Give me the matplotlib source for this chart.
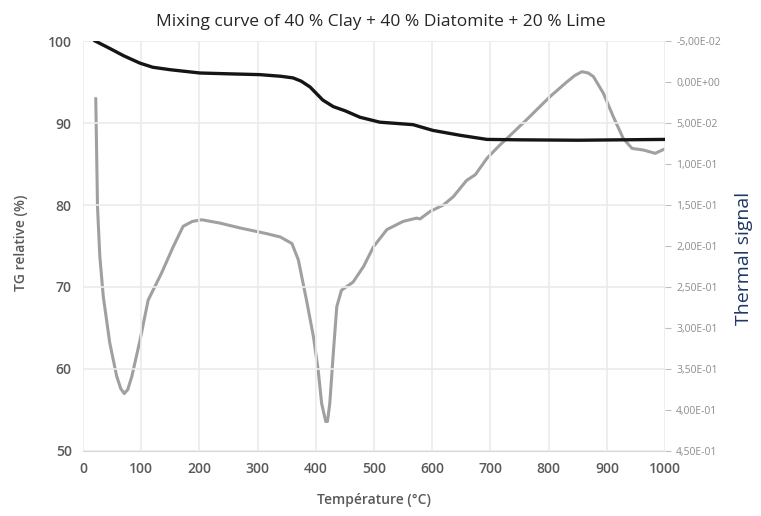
import matplotlib
matplotlib.use("Agg")
import matplotlib.pyplot as plt
from matplotlib.ticker import FuncFormatter, MultipleLocator

# TG relative (%) - black curve (left axis)
tg_temp = [21, 46, 70, 98, 120, 150, 201, 250, 304, 340, 361, 375, 390, 412, 430,
           450, 476, 510, 567, 601, 648, 694, 750, 850, 1000]
tg_val = [100, 99.1, 98.2, 97.3, 96.8, 96.5, 96.1, 96.0, 95.9, 95.7, 95.5, 95.1, 94.4,
          92.8, 92.0, 91.5, 90.7, 90.1, 89.8, 89.1, 88.5, 88.0, 87.95, 87.9, 88.0]

# Thermal signal - grey curve (right axis, inverted)
th_temp = [22, 25, 29, 35, 46, 58, 65, 71, 77, 84, 98, 112, 135, 155, 172, 188, 204,
           235, 270, 316, 339, 359, 370, 384, 396, 404, 410, 417, 420, 424, 430, 436,
           444, 464, 482, 499, 522, 550, 573, 579, 596, 619, 636, 659, 674, 694, 716,
           734, 762, 802, 831, 845, 857, 868, 877, 894, 911, 928, 943, 963, 983, 998]
th_val = [0.020, 0.152, 0.213, 0.262, 0.318, 0.359, 0.374, 0.380, 0.375, 0.359, 0.315,
          0.266, 0.233, 0.201, 0.176, 0.170, 0.168, 0.172, 0.178, 0.185, 0.189, 0.197,
          0.217, 0.266, 0.311, 0.351, 0.392, 0.414, 0.414, 0.392, 0.331, 0.274, 0.254,
          0.244, 0.225, 0.201, 0.180, 0.170, 0.166, 0.167, 0.158, 0.150, 0.140, 0.120,
          0.113, 0.093, 0.077, 0.065, 0.046, 0.018, 0.000, -0.008, -0.0126, -0.011,
          -0.0065, 0.0138, 0.0423, 0.0687, 0.0809, 0.083, 0.087, 0.082]

title = "Mixing curve of 40 % Clay + 40 % Diatomite + 20 % Lime"
xlabel = "Température (°C)"
ylabel_left = "TG relative (%)"
ylabel_right = "Thermal signal"

plt.rcParams['font.family'] = ['Open Sans', 'DejaVu Sans']

fig = plt.figure(figsize=(7.61, 5.16), dpi=100)
ax = fig.add_axes([0.109, 0.126, 0.765, 0.7945])
ax2 = ax.twinx()

tick_col = '#595959'
grid_col = '#ebebeb'

ax.set_xlim(0, 1000)
ax.set_ylim(50, 100)
ax.xaxis.set_major_locator(MultipleLocator(100))
ax.yaxis.set_major_locator(MultipleLocator(10))
ax.grid(True, color=grid_col, linewidth=1.2)
ax.set_axisbelow(True)
for s in ['top', 'left', 'right']:
    ax.spines[s].set_visible(False)
ax.spines['bottom'].set_color('#d9d9d9')
ax.tick_params(axis='both', length=0, colors=tick_col, labelsize=10, pad=8)
for lab in ax.get_xticklabels() + ax.get_yticklabels():
    lab.set_fontweight('semibold')

ax2.set_ylim(0.45, -0.05)
ax2.yaxis.set_major_locator(MultipleLocator(0.05))
ax2.yaxis.set_major_formatter(FuncFormatter(lambda v, p: f"{v:.2E}".replace('.', ',')))
for s in ['top', 'left', 'right', 'bottom']:
    ax2.spines[s].set_visible(False)
ax2.tick_params(axis='y', length=4, color='#bfbfbf', colors='#8c8c8c', labelsize=7.5, pad=4)

ax2.plot(th_temp, th_val, color='#a0a0a0', linewidth=2.2,
         solid_joinstyle='round', solid_capstyle='round')
ax.plot(tg_temp, tg_val, color='#151515', linewidth=2.4, zorder=5,
        solid_joinstyle='round')
ax.set_zorder(ax2.get_zorder() + 1)
ax.patch.set_visible(False)

fig.text(0.5, 0.957, title, ha='center', va='center', fontsize=12.5, color='#262626')
ax.set_xlabel(xlabel, fontsize=10, color=tick_col, fontweight='semibold', labelpad=12)
fig.text(0.027, 0.53, ylabel_left, rotation=90, ha='center', va='center',
         fontsize=10, color=tick_col, fontweight='semibold')
fig.text(0.978, 0.50, ylabel_right, rotation=90, ha='center', va='center',
         fontsize=14, color='#1f3864')

fig.savefig('out.png', dpi=100)
